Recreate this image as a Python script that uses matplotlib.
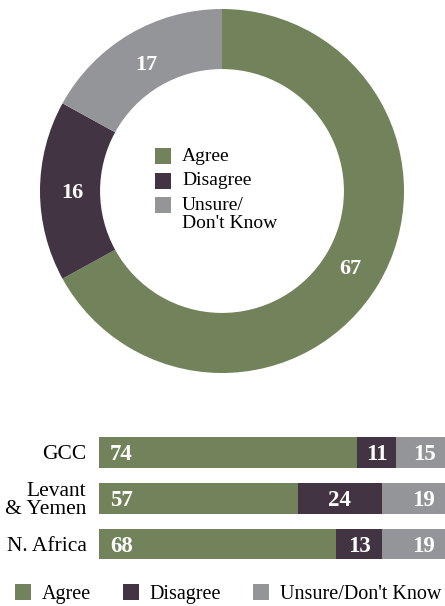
import matplotlib
matplotlib.use("Agg")
import matplotlib.pyplot as plt
from matplotlib.patches import Rectangle
import numpy as np

# overall shares (%)
overall_labels = ["Agree", "Disagree", "Unsure/\nDon't Know"]
overall_values = [67, 16, 17]

# by region (%)
regions = ["GCC", "Levant\n& Yemen", "N. Africa"]
agree = [74, 57, 68]
disagree = [11, 24, 13]
unsure = [15, 19, 19]
bar_labels = ["Agree", "Disagree", "Unsure/Don't Know"]

colors = ["#72825b", "#423443", "#939598"]

plt.rcParams["font.family"] = ["Liberation Serif", "DejaVu Serif"]

fig = plt.figure(figsize=(4.45, 6.06), dpi=100)

#-- donut
ax = fig.add_axes([40 / 445, 233 / 606, 364 / 445, 364 / 606])
wedges, _ = ax.pie(overall_values, colors=colors, startangle=90, counterclock=False,
                   radius=1, wedgeprops=dict(width=0.33, edgecolor="none"))
ax.set_xlim(-1, 1)
ax.set_ylim(-1, 1)
ax.set_aspect("equal")
ax.axis("off")

for w, v in zip(wedges, overall_values):
    mid = np.deg2rad((w.theta1 + w.theta2) / 2)
    r = 0.82
    ax.text(r * np.cos(mid), r * np.sin(mid), str(v), color="white", fontsize=16,
            fontweight="bold", ha="center", va="center_baseline")

# legend in the hole (handle lined up with the first line of each label)
sq = 0.088
for i, (lab, c) in enumerate(zip(overall_labels, colors)):
    yc = 0.192 - i * 0.135
    ax.add_patch(Rectangle((-0.368, yc - sq / 2), sq, sq, color=c, lw=0))
    ax.text(-0.22, yc + 0.045, lab, fontsize=14, ha="left", va="top",
            linespacing=1.05)

#-- stacked bars
bx = fig.add_axes([99 / 445, 39 / 606, 349 / 445, 137.5 / 606])
y = np.arange(len(regions))
h = 0.67
bars = []
left = np.zeros(len(regions))
for k, (vals, c) in enumerate(zip([agree, disagree, unsure], colors)):
    b = bx.barh(y, vals, left=left, height=h, color=c, edgecolor="none")
    bars.append(b)
    for yi, l, v in zip(y, left, vals):
        if k == 0:
            bx.annotate(str(v), (l, yi), xytext=(8, 0), textcoords="offset points",
                        color="white", fontsize=16.5, fontweight="bold",
                        ha="left", va="center_baseline")
        elif k == 1:
            bx.text(l + v / 2, yi, str(v), color="white", fontsize=16.5,
                    fontweight="bold", ha="center", va="center_baseline")
        else:
            bx.annotate(str(v), (l + v, yi), xytext=(-9, 0), textcoords="offset points",
                        color="white", fontsize=16.5, fontweight="bold",
                        ha="right", va="center_baseline")
    left = left + np.array(vals)

bx.set_xlim(0, 100)
bx.set_ylim(2.5, -0.5)
bx.set_yticks(y)
bx.set_yticklabels(regions, fontsize=15.5, linespacing=0.95)
bx.tick_params(axis="y", length=0, pad=9)
bx.set_xticks([])
for s in bx.spines.values():
    s.set_visible(False)

fig.legend([b[0] for b in bars], bar_labels, loc="center left", ncol=3,
           bbox_to_anchor=(15 / 445, 1 - 594 / 606), frameon=False, fontsize=14.5,
           handlelength=0.8, handleheight=0.8, handletextpad=0.55,
           columnspacing=1.55, borderpad=0, borderaxespad=0)

fig.savefig("out.png", dpi=100)
